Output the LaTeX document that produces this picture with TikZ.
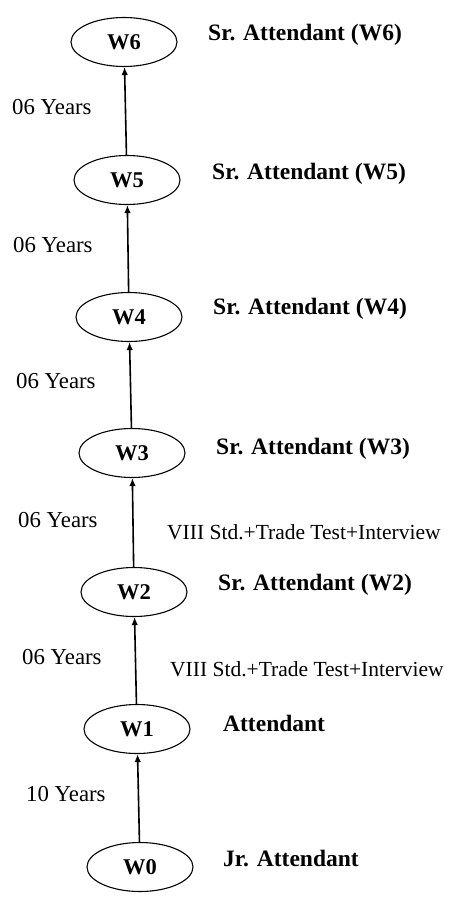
\documentclass[tikz,border=0pt]{standalone}
\usepackage{fontspec}
\setmainfont{Liberation Serif}
\usetikzlibrary{arrows.meta,shapes.geometric}

\begin{document}
\begin{tikzpicture}[x=1pt,y=-1pt,
  grade/.style={draw, ellipse, line width=1.1pt, minimum width=106pt, minimum height=49pt,
    inner sep=0pt, font=\fontsize{22.5}{26}\selectfont\bfseries},
  post/.style={anchor=west, inner sep=0pt, font=\fontsize{23.5}{27}\selectfont\bfseries},
  span/.style={anchor=west, inner sep=0pt, font=\fontsize{22.8}{26}\selectfont},
  cond/.style={anchor=west, inner sep=0pt, font=\fontsize{21.5}{25}\selectfont},
  promote/.style={line width=1.6pt, -{Latex[length=8pt,width=6.5pt]}}]
  \useasboundingbox (0,0) rectangle (453,899);

  % grade ellipses, bottom (W0) to top (W6)
  \node[grade] (w0) at (140,867) {W0};
  \node[grade] (w1) at (137,729) {W1};
  \node[grade] (w2) at (134,592) {W2};
  \node[grade] (w3) at (132,453) {W3};
  \node[grade] (w4) at (129,317) {W4};
  \node[grade] (w5) at (127,180) {W5};
  \node[grade] (w6) at (124,42)  {W6};

  % post names
  \node[post] (p6) at (208,35)  {Sr. Attendant (W6)};
  \node[post] (p5) at (212,174) {Sr. Attendant (W5)};
  \node[post] (p4) at (213,309) {Sr. Attendant (W4)};
  \node[post] (p3) at (216,449) {Sr. Attendant (W3)};
  \node[post] (p2) at (218,585) {Sr. Attendant (W2)};
  \node[post] (p1) at (223,723) {Attendant};
  \node[post] (p0) at (223,859) {Jr. Attendant};

  % years of service between grades
  \node[span] (y56) at (12,107) {06 Years};
  \node[span] (y45) at (13,245) {06 Years};
  \node[span] (y34) at (16,381) {06 Years};
  \node[span] (y23) at (18,520) {06 Years};
  \node[span] (y12) at (22,657) {06 Years};
  \node[span] (y01) at (26,794) {10 Years};

  % promotion conditions
  \node[cond] (c23) at (167,532) {VIII Std.+Trade Test+Interview};
  \node[cond] (c12) at (170,669) {VIII Std.+Trade Test+Interview};

  % promotion arrows
  \draw[promote] (w0) -- (w1);
  \draw[promote] (w1) -- (w2);
  \draw[promote] (w2) -- (w3);
  \draw[promote] (w3) -- (w4);
  \draw[promote] (w4) -- (w5);
  \draw[promote] (w5) -- (w6);
\end{tikzpicture}
\end{document}
